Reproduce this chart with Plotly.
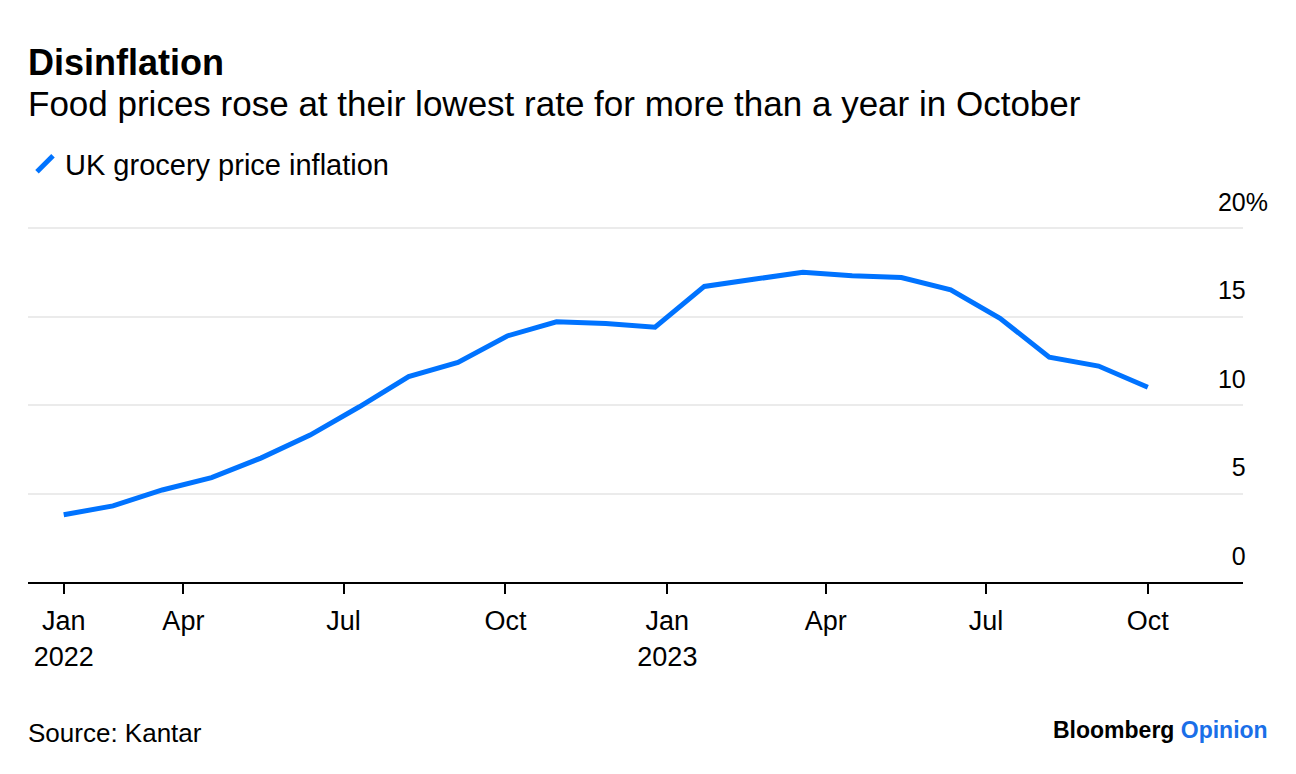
import plotly.graph_objects as go

# ---- data ----
dates = ["2022-01-23", "2022-02-20", "2022-03-20", "2022-04-17", "2022-05-15",
         "2022-06-12", "2022-07-10", "2022-08-07", "2022-09-04", "2022-10-02",
         "2022-10-30", "2022-11-27", "2022-12-25", "2023-01-22", "2023-02-19",
         "2023-03-19", "2023-04-16", "2023-05-14", "2023-06-11", "2023-07-09",
         "2023-08-06", "2023-09-03", "2023-10-01"]
inflation = [3.8, 4.3, 5.2, 5.9, 7.0, 8.3, 9.9, 11.6, 12.4, 13.9, 14.7, 14.6,
             14.4, 16.7, 17.1, 17.5, 17.3, 17.2, 16.5, 14.9, 12.7, 12.2, 11.0]
series_name = "UK grocery price inflation"

x_tick_vals = ["2022-01-23", "2022-04-01", "2022-07-01", "2022-10-01",
               "2023-01-01", "2023-04-01", "2023-07-01", "2023-10-01"]
x_tick_text = ["Jan<br>2022", "Apr", "Jul", "Oct", "Jan<br>2023", "Apr", "Jul", "Oct"]
y_tick_vals = [0, 5, 10, 15, 20]
y_tick_text = ["0", "5", "10", "15", "20%"]

title = "Disinflation"
subtitle = "Food prices rose at their lowest rate for more than a year in October"
source = "Source: Kantar"

BLUE = "#0073ff"
FONT = "Liberation Sans, Arial, sans-serif"

# plot area in pixels (for placing the page text)
W, H = 1296, 774
L, R, T, B = 28, 1243, 224, 582
Y_TOP = 20 + (228 - T) / ((582 - 228) / 20)   # keep the 20 gridline inside the plot


def px(xp):
    return (xp - L) / (R - L)


def py(yp):
    return (B - yp) / (B - T)


hide = "<span style='color:rgba(0,0,0,0)'>%</span>"
y_tick_labels = [t if t.endswith("%") else t + hide for t in y_tick_text]

fig = go.Figure()
fig.add_trace(go.Scatter(x=dates, y=inflation, mode="lines",
                         line=dict(color=BLUE, width=5),
                         name=series_name, showlegend=False,
                         hoverinfo="x+y"))
# legend entry with a slanted glyph
fig.add_trace(go.Scatter(x=[None], y=[None], mode="markers", name=series_name,
                         marker=dict(symbol="line-ne", size=20,
                                     line=dict(color=BLUE, width=6)),
                         showlegend=True))

fig.update_layout(
    width=W, height=H,
    margin=dict(l=L, r=W - R, t=T, b=H - B, autoexpand=False),
    paper_bgcolor="white", plot_bgcolor="white",
    font=dict(family=FONT, color="#000000", size=24),
    showlegend=True,
    legend=dict(x=px(25), y=py(164), xanchor="left", yanchor="middle",
                orientation="h", font=dict(size=29, color="#000"),
                itemwidth=30, bgcolor="rgba(0,0,0,0)"),
    xaxis=dict(
        type="date",
        range=["2022-01-02 17:00", "2023-11-24 02:00"],
        tickmode="array", tickvals=x_tick_vals, ticktext=x_tick_text,
        showgrid=False, zeroline=False,
        showline=True, linecolor="#000000", linewidth=2,
        ticks="outside", ticklen=10, tickwidth=2, tickcolor="#000000",
        tickfont=dict(size=27, color="#000"),
        ticklabelstandoff=4,
        fixedrange=True,
    ),
    yaxis=dict(
        range=[0, Y_TOP], side="right",
        tickmode="array", tickvals=y_tick_vals, ticktext=y_tick_labels,
        ticklabelposition="inside", ticks="",
        ticklabelshift=-26, ticklabelstandoff=-28,
        ticklabeloverflow="allow",
        showgrid=True, gridcolor="#ebebeb", gridwidth=2,
        zeroline=False, showline=False,
        tickfont=dict(size=25, color="#000"),
        fixedrange=True,
    ),
    annotations=[
        dict(text="<b>" + title + "</b>", x=px(26), y=py(62), xref="paper", yref="paper",
             xanchor="left", yanchor="middle", showarrow=False,
             font=dict(size=36, color="#000")),
        dict(text=subtitle, x=px(26), y=py(104), xref="paper", yref="paper",
             xanchor="left", yanchor="middle", showarrow=False,
             font=dict(size=35, color="#000")),
        dict(text=source, x=px(26), y=py(733), xref="paper", yref="paper",
             xanchor="left", yanchor="middle", showarrow=False,
             font=dict(size=26, color="#000")),
        dict(text="<b>Bloomberg</b> <b><span style='color:#1a6fe8'>Opinion</span></b>",
             x=px(1270), y=py(730), xref="paper", yref="paper",
             xanchor="right", yanchor="middle", showarrow=False,
             font=dict(size=23, color="#000")),
    ],
)

fig.write_html("out.html")
